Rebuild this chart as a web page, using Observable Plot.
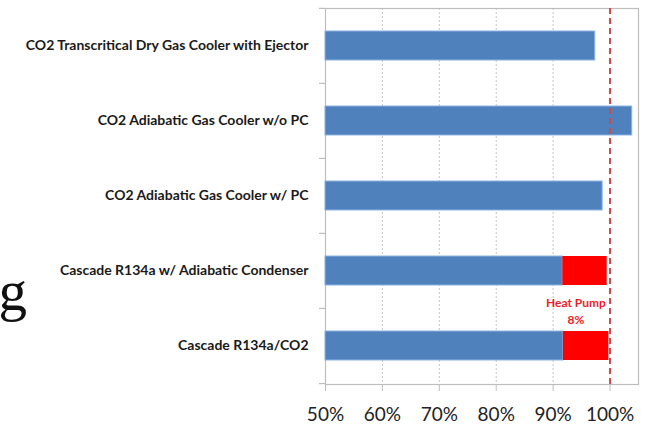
<!DOCTYPE html>
<html>
<head>
<meta charset="utf-8">
<script src="https://cdn.jsdelivr.net/npm/d3@7"></script>
<script src="https://cdn.jsdelivr.net/npm/@observablehq/plot@0.6"></script>
<style>
  html, body { margin: 0; padding: 0; background: #fff; }
  #wrap { position: relative; width: 648px; height: 426px; overflow: hidden; }
  #bg { position: absolute; left: 27px; top: 258px; font-family: "Liberation Serif", serif; font-size: 57px; color: #111; transform: translateX(-100%); white-space: nowrap; }
</style>
</head>
<body>
<div id="wrap"><div id="bg">ng</div></div>
<script>
const categories = [
  "CO2 Transcritical Dry Gas Cooler with Ejector",
  "CO2 Adiabatic Gas Cooler w/o PC",
  "CO2 Adiabatic Gas Cooler w/ PC",
  "Cascade R134a w/ Adiabatic Condenser",
  "Cascade R134a/CO2"
];
const baseValues = [97.4, 103.9, 98.7, 91.7, 91.8];
const heatPumpValues = [0, 0, 0, 7.8, 8.0];
const xTicks = [50, 60, 70, 80, 90, 100];
const gridTicks = [60, 70, 80, 90];
const refValue = 100;
const annotation = {label: "Heat Pump\n8%", x: 94, category: "Cascade R134a/CO2"};

const rows = categories.map((c, i) => ({cat: c, base: baseValues[i], hp: heatPumpValues[i]}));
const hpRows = rows.filter(d => d.hp > 0);
const step = 75.2;

const chart = Plot.plot({
  width: 648,
  height: 426,
  marginLeft: 325,
  marginRight: 10,
  marginTop: 8,
  marginBottom: 42,
  style: {fontFamily: "Lato, sans-serif", background: "transparent"},
  x: {domain: [50, 105], ticks: xTicks},
  y: {domain: categories, paddingInner: 0.61, paddingOuter: 0.305},
  marks: [
    Plot.ruleX(gridTicks, {stroke: "#c4c4c4", strokeWidth: 1, strokeDasharray: "2,2"}),
    Plot.frame({stroke: "#bdbdbd", strokeWidth: 1.2}),
    Plot.ruleY(categories, {y: d => d, dy: -step / 2, x1: 48.95, x2: 50, stroke: "#bdbdbd", strokeWidth: 1.2}),
    Plot.ruleY([categories[categories.length - 1]], {y: d => d, dy: step / 2, x1: 48.95, x2: 50, stroke: "#bdbdbd", strokeWidth: 1.2}),
    Plot.barX(rows, {y: "cat", x1: 50, x2: "base", fill: "#4F81BD", stroke: "#8DB3E2", strokeWidth: 1}),
    Plot.barX(hpRows, {y: "cat", x1: "base", x2: d => d.base + d.hp, fill: "#FF0000"}),
    Plot.ruleX([refValue], {stroke: "#D04848", strokeWidth: 2, strokeDasharray: "6,4"}),
    Plot.text([annotation], {x: "x", y: "category", dy: -step / 2 + 2, text: "label", fill: "#EE1C25", fontSize: 12, fontWeight: "bold", lineHeight: 1.35}),
    Plot.axisX({ticks: xTicks, tickFormat: d => d + "%", tickSize: 7, tickPadding: 16, fontSize: 19, stroke: "#bdbdbd", fill: "#222", label: null}),
    Plot.axisY({tickSize: 0, tickPadding: 17, fontSize: 14, fontWeight: "bold", fill: "#1a1a1a", label: null})
  ]
});
document.getElementById("wrap").prepend(chart);
</script>
</body>
</html>
